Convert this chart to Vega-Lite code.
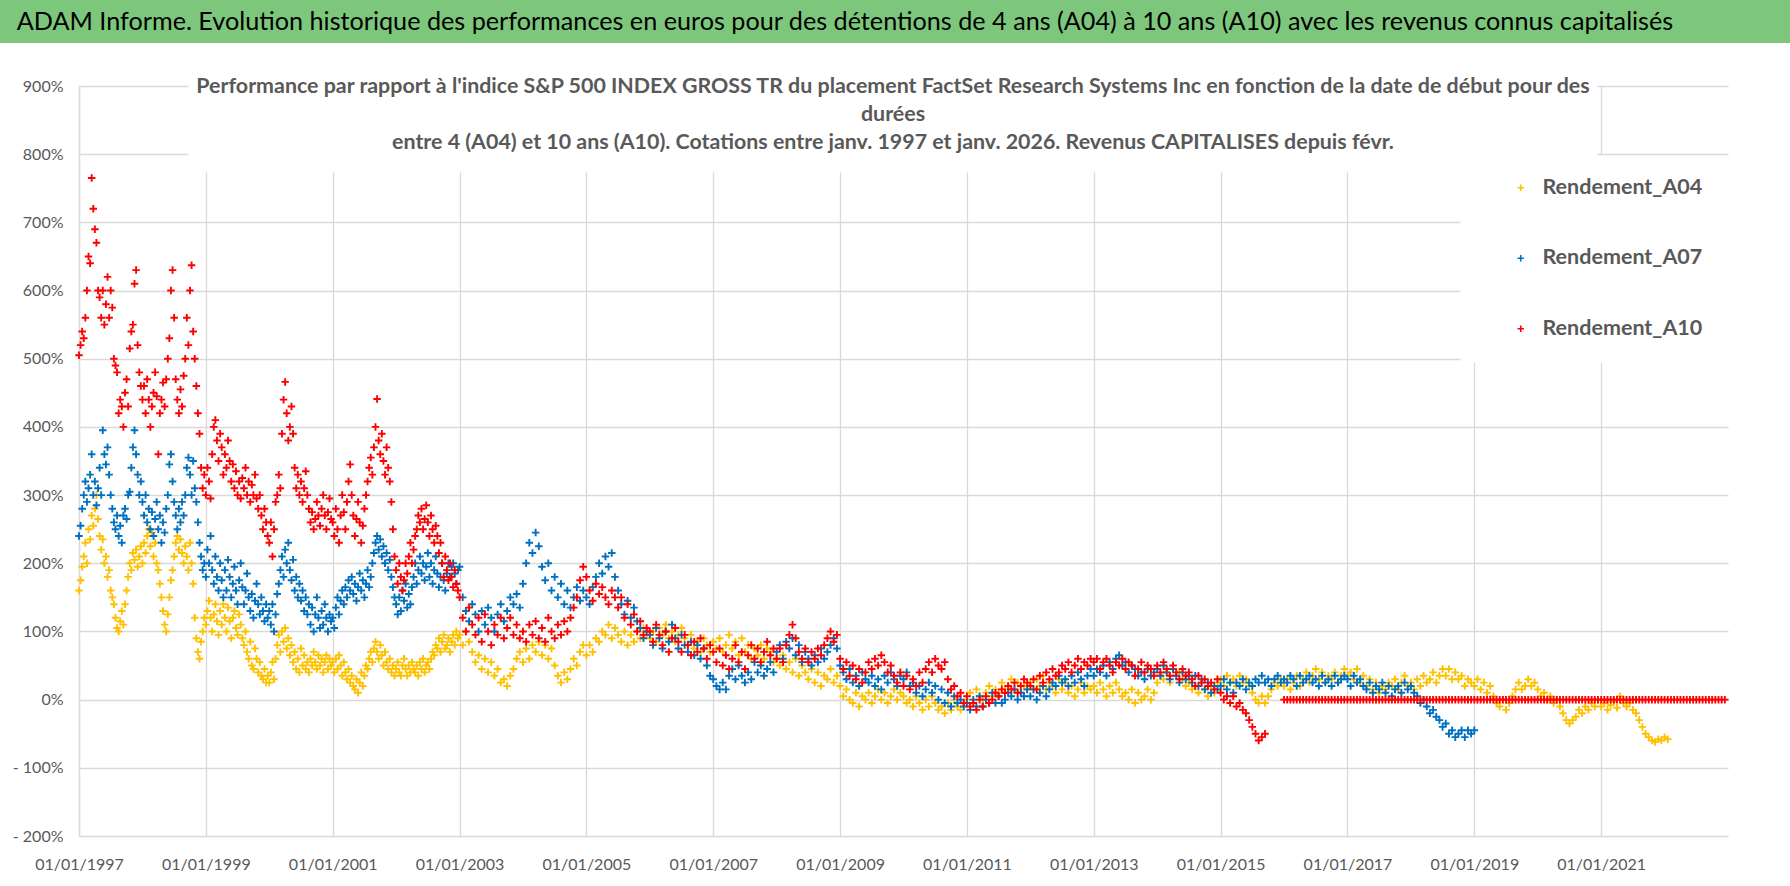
{
"$schema": "https://vega.github.io/schema/vega-lite/v6.json",
"padding": 0,
"background": "white",
"spacing": 32,
"columns": 1,
"resolve": {"legend": {"color": "independent"}},
"config": {"view": {"stroke": null}, "font": "Lato"},
"concat": [
{
"width": 1790, "height": 43,
"view": {"fill": "#7DC77D", "stroke": null},
"data": {"values": [{"titre": "ADAM Informe. Evolution historique des performances en euros pour des détentions de 4 ans (A04) à 10 ans (A10) avec les revenus connus capitalisés"}]},
"mark": {"type": "text", "fontSize": 25.2, "color": "#000000", "dx": -50, "baseline": "middle", "align": "center", "font": "Lato"},
"encoding": {"text": {"field": "titre", "type": "nominal"}}
},
{
"width": 1728, "height": 750,
"title": {"text": ["Performance par rapport à l'indice S&P 500 INDEX GROSS TR  du placement FactSet Research Systems Inc en fonction de la date de début pour des", "durées", "entre 4 (A04) et 10 ans (A10). Cotations entre janv. 1997 et janv. 2026. Revenus CAPITALISES depuis févr."], "fontSize": 21.4, "fontWeight": "bold", "color": "#595959", "font": "Lato", "lineHeight": 28, "anchor": "middle", "frame": "group", "dx": 29, "offset": -75},
"data": {"values": [
{"t":1997.000,"A04":160,"A07":240,"A10":505},
{"t":1997.025,"A04":175,"A07":255,"A10":520},
{"t":1997.050,"A04":195,"A07":280,"A10":540},
{"t":1997.075,"A04":210,"A07":300,"A10":530},
{"t":1997.100,"A04":230,"A07":320,"A10":560},
{"t":1997.125,"A04":200,"A07":290,"A10":600},
{"t":1997.150,"A04":250,"A07":310,"A10":650},
{"t":1997.175,"A04":235,"A07":330,"A10":640},
{"t":1997.200,"A04":270,"A07":360,"A10":765},
{"t":1997.225,"A04":255,"A07":300,"A10":720},
{"t":1997.250,"A04":280,"A07":320,"A10":690},
{"t":1997.275,"A04":300,"A07":285,"A10":670},
{"t":1997.300,"A04":265,"A07":310,"A10":600},
{"t":1997.325,"A04":240,"A07":340,"A10":590},
{"t":1997.350,"A04":220,"A07":300,"A10":560},
{"t":1997.375,"A04":235,"A07":395,"A10":600},
{"t":1997.400,"A04":200,"A07":360,"A10":550},
{"t":1997.425,"A04":210,"A07":345,"A10":580},
{"t":1997.450,"A04":180,"A07":370,"A10":620},
{"t":1997.475,"A04":190,"A07":330,"A10":560},
{"t":1997.500,"A04":160,"A07":300,"A10":600},
{"t":1997.525,"A04":150,"A07":280,"A10":575},
{"t":1997.550,"A04":140,"A07":260,"A10":500},
{"t":1997.575,"A04":120,"A07":250,"A10":490},
{"t":1997.600,"A04":105,"A07":270,"A10":480},
{"t":1997.625,"A04":100,"A07":240,"A10":420},
{"t":1997.650,"A04":115,"A07":255,"A10":440},
{"t":1997.675,"A04":130,"A07":230,"A10":430},
{"t":1997.700,"A04":110,"A07":270,"A10":400},
{"t":1997.725,"A04":140,"A07":280,"A10":450},
{"t":1997.750,"A04":160,"A07":265,"A10":470},
{"t":1997.775,"A04":180,"A07":300,"A10":430},
{"t":1997.800,"A04":200,"A07":305,"A10":515},
{"t":1997.825,"A04":190,"A07":340,"A10":540},
{"t":1997.850,"A04":215,"A07":370,"A10":550},
{"t":1997.875,"A04":205,"A07":395,"A10":610},
{"t":1997.900,"A04":220,"A07":360,"A10":630},
{"t":1997.925,"A04":195,"A07":330,"A10":520},
{"t":1997.950,"A04":210,"A07":300,"A10":480},
{"t":1997.975,"A04":225,"A07":320,"A10":460},
{"t":1998.000,"A04":200,"A07":290,"A10":440},
{"t":1998.025,"A04":230,"A07":270,"A10":460},
{"t":1998.050,"A04":215,"A07":300,"A10":420},
{"t":1998.075,"A04":240,"A07":260,"A10":470},
{"t":1998.100,"A04":250,"A07":280,"A10":440},
{"t":1998.125,"A04":225,"A07":250,"A10":400},
{"t":1998.150,"A04":245,"A07":275,"A10":430},
{"t":1998.175,"A04":210,"A07":240,"A10":450},
{"t":1998.200,"A04":230,"A07":265,"A10":480},
{"t":1998.225,"A04":200,"A07":290,"A10":445},
{"t":1998.250,"A04":190,"A07":250,"A10":360},
{"t":1998.275,"A04":170,"A07":270,"A10":420},
{"t":1998.300,"A04":150,"A07":230,"A10":440},
{"t":1998.325,"A04":130,"A07":260,"A10":465},
{"t":1998.350,"A04":110,"A07":245,"A10":430},
{"t":1998.375,"A04":100,"A07":280,"A10":470},
{"t":1998.400,"A04":125,"A07":300,"A10":500},
{"t":1998.425,"A04":150,"A07":345,"A10":530},
{"t":1998.450,"A04":175,"A07":360,"A10":600},
{"t":1998.475,"A04":190,"A07":320,"A10":630},
{"t":1998.500,"A04":210,"A07":290,"A10":560},
{"t":1998.525,"A04":230,"A07":270,"A10":470},
{"t":1998.550,"A04":240,"A07":250,"A10":440},
{"t":1998.575,"A04":220,"A07":280,"A10":420},
{"t":1998.600,"A04":235,"A07":260,"A10":455},
{"t":1998.625,"A04":215,"A07":290,"A10":430},
{"t":1998.650,"A04":200,"A07":270,"A10":475},
{"t":1998.675,"A04":225,"A07":300,"A10":500},
{"t":1998.700,"A04":210,"A07":340,"A10":560},
{"t":1998.725,"A04":190,"A07":355,"A10":520},
{"t":1998.750,"A04":230,"A07":330,"A10":600},
{"t":1998.775,"A04":200,"A07":300,"A10":637},
{"t":1998.800,"A04":170,"A07":350,"A10":540},
{"t":1998.825,"A04":120,"A07":310,"A10":500},
{"t":1998.850,"A04":90,"A07":290,"A10":460},
{"t":1998.875,"A04":70,"A07":260,"A10":420},
{"t":1998.900,"A04":60,"A07":230,"A10":390},
{"t":1998.925,"A04":85,"A07":210,"A10":340},
{"t":1998.950,"A04":100,"A07":190,"A10":310},
{"t":1998.975,"A04":120,"A07":200,"A10":330},
{"t":1999.000,"A04":110,"A07":180,"A10":300},
{"t":1999.025,"A04":130,"A07":220,"A10":340},
{"t":1999.050,"A04":145,"A07":200,"A10":320},
{"t":1999.075,"A04":120,"A07":240,"A10":295},
{"t":1999.100,"A04":100,"A07":190,"A10":360},
{"t":1999.125,"A04":125,"A07":170,"A10":400},
{"t":1999.150,"A04":140,"A07":210,"A10":410},
{"t":1999.175,"A04":115,"A07":180,"A10":380},
{"t":1999.200,"A04":95,"A07":160,"A10":350},
{"t":1999.225,"A04":130,"A07":200,"A10":390},
{"t":1999.250,"A04":110,"A07":175,"A10":370},
{"t":1999.275,"A04":140,"A07":150,"A10":330},
{"t":1999.300,"A04":120,"A07":190,"A10":360},
{"t":1999.325,"A04":100,"A07":160,"A10":340},
{"t":1999.350,"A04":135,"A07":205,"A10":380},
{"t":1999.375,"A04":115,"A07":180,"A10":350},
{"t":1999.400,"A04":90,"A07":150,"A10":320},
{"t":1999.425,"A04":120,"A07":170,"A10":345},
{"t":1999.450,"A04":130,"A07":195,"A10":310},
{"t":1999.475,"A04":105,"A07":160,"A10":335},
{"t":1999.500,"A04":95,"A07":140,"A10":300},
{"t":1999.525,"A04":125,"A07":175,"A10":320},
{"t":1999.550,"A04":110,"A07":200,"A10":295},
{"t":1999.575,"A04":90,"A07":165,"A10":325},
{"t":1999.600,"A04":80,"A07":140,"A10":310},
{"t":1999.625,"A04":100,"A07":160,"A10":340},
{"t":1999.650,"A04":70,"A07":185,"A10":300},
{"t":1999.675,"A04":60,"A07":150,"A10":320},
{"t":1999.700,"A04":85,"A07":130,"A10":290},
{"t":1999.725,"A04":50,"A07":155,"A10":315},
{"t":1999.750,"A04":45,"A07":120,"A10":300},
{"t":1999.775,"A04":75,"A07":145,"A10":330},
{"t":1999.800,"A04":60,"A07":170,"A10":295},
{"t":1999.825,"A04":40,"A07":140,"A10":280},
{"t":1999.850,"A04":55,"A07":125,"A10":300},
{"t":1999.875,"A04":35,"A07":150,"A10":270},
{"t":1999.900,"A04":30,"A07":130,"A10":250},
{"t":1999.925,"A04":45,"A07":115,"A10":280},
{"t":1999.950,"A04":25,"A07":140,"A10":260},
{"t":1999.975,"A04":35,"A07":120,"A10":240},
{"t":2000.000,"A04":25,"A07":130,"A10":230},
{"t":2000.025,"A04":40,"A07":110,"A10":260},
{"t":2000.050,"A04":55,"A07":140,"A10":210},
{"t":2000.075,"A04":30,"A07":100,"A10":250},
{"t":2000.100,"A04":60,"A07":125,"A10":290},
{"t":2000.125,"A04":80,"A07":155,"A10":300},
{"t":2000.150,"A04":95,"A07":170,"A10":330},
{"t":2000.175,"A04":70,"A07":190,"A10":310},
{"t":2000.200,"A04":100,"A07":210,"A10":390},
{"t":2000.225,"A04":85,"A07":180,"A10":440},
{"t":2000.250,"A04":105,"A07":220,"A10":466},
{"t":2000.275,"A04":75,"A07":200,"A10":420},
{"t":2000.300,"A04":90,"A07":230,"A10":380},
{"t":2000.325,"A04":65,"A07":190,"A10":400},
{"t":2000.350,"A04":80,"A07":175,"A10":430},
{"t":2000.375,"A04":55,"A07":205,"A10":390},
{"t":2000.400,"A04":70,"A07":160,"A10":340},
{"t":2000.425,"A04":45,"A07":180,"A10":310},
{"t":2000.450,"A04":60,"A07":150,"A10":330},
{"t":2000.475,"A04":40,"A07":170,"A10":300},
{"t":2000.500,"A04":75,"A07":145,"A10":320},
{"t":2000.525,"A04":50,"A07":160,"A10":290},
{"t":2000.550,"A04":65,"A07":130,"A10":310},
{"t":2000.575,"A04":45,"A07":150,"A10":335},
{"t":2000.600,"A04":55,"A07":125,"A10":300},
{"t":2000.625,"A04":40,"A07":140,"A10":280},
{"t":2000.650,"A04":60,"A07":110,"A10":260},
{"t":2000.675,"A04":50,"A07":135,"A10":275},
{"t":2000.700,"A04":70,"A07":100,"A10":250},
{"t":2000.725,"A04":55,"A07":125,"A10":265},
{"t":2000.750,"A04":45,"A07":150,"A10":290},
{"t":2000.775,"A04":65,"A07":120,"A10":270},
{"t":2000.800,"A04":50,"A07":105,"A10":255},
{"t":2000.825,"A04":60,"A07":130,"A10":280},
{"t":2000.850,"A04":40,"A07":110,"A10":300},
{"t":2000.875,"A04":55,"A07":140,"A10":270},
{"t":2000.900,"A04":65,"A07":120,"A10":250},
{"t":2000.925,"A04":45,"A07":100,"A10":275},
{"t":2000.950,"A04":60,"A07":125,"A10":295},
{"t":2000.975,"A04":50,"A07":115,"A10":265},
{"t":2001.000,"A04":55,"A07":120,"A10":260},
{"t":2001.025,"A04":40,"A07":105,"A10":240},
{"t":2001.050,"A04":60,"A07":135,"A10":280},
{"t":2001.075,"A04":45,"A07":150,"A10":250},
{"t":2001.100,"A04":65,"A07":125,"A10":230},
{"t":2001.125,"A04":50,"A07":145,"A10":270},
{"t":2001.150,"A04":35,"A07":160,"A10":300},
{"t":2001.175,"A04":55,"A07":140,"A10":275},
{"t":2001.200,"A04":40,"A07":165,"A10":250},
{"t":2001.225,"A04":30,"A07":150,"A10":290},
{"t":2001.250,"A04":45,"A07":175,"A10":320},
{"t":2001.275,"A04":25,"A07":160,"A10":345},
{"t":2001.300,"A04":35,"A07":180,"A10":300},
{"t":2001.325,"A04":20,"A07":155,"A10":270},
{"t":2001.350,"A04":15,"A07":170,"A10":240},
{"t":2001.375,"A04":30,"A07":145,"A10":265},
{"t":2001.400,"A04":10,"A07":165,"A10":290},
{"t":2001.425,"A04":25,"A07":185,"A10":260},
{"t":2001.450,"A04":40,"A07":160,"A10":230},
{"t":2001.475,"A04":20,"A07":175,"A10":255},
{"t":2001.500,"A04":35,"A07":150,"A10":280},
{"t":2001.525,"A04":50,"A07":170,"A10":300},
{"t":2001.550,"A04":45,"A07":190,"A10":320},
{"t":2001.575,"A04":60,"A07":165,"A10":340},
{"t":2001.600,"A04":70,"A07":180,"A10":355},
{"t":2001.625,"A04":55,"A07":200,"A10":330},
{"t":2001.650,"A04":75,"A07":215,"A10":370},
{"t":2001.675,"A04":85,"A07":230,"A10":400},
{"t":2001.700,"A04":70,"A07":240,"A10":441},
{"t":2001.725,"A04":60,"A07":220,"A10":380},
{"t":2001.750,"A04":80,"A07":235,"A10":360},
{"t":2001.775,"A04":65,"A07":210,"A10":390},
{"t":2001.800,"A04":50,"A07":225,"A10":350},
{"t":2001.825,"A04":70,"A07":200,"A10":330},
{"t":2001.850,"A04":55,"A07":215,"A10":370},
{"t":2001.875,"A04":45,"A07":190,"A10":340},
{"t":2001.900,"A04":60,"A07":205,"A10":320},
{"t":2001.925,"A04":40,"A07":180,"A10":290},
{"t":2001.950,"A04":50,"A07":165,"A10":250},
{"t":2001.975,"A04":35,"A07":150,"A10":210},
{"t":2002.000,"A04":45,"A07":140,"A10":190},
{"t":2002.025,"A04":55,"A07":125,"A10":170},
{"t":2002.050,"A04":40,"A07":150,"A10":200},
{"t":2002.075,"A04":35,"A07":130,"A10":180},
{"t":2002.100,"A04":50,"A07":160,"A10":160},
{"t":2002.125,"A04":60,"A07":145,"A10":175},
{"t":2002.150,"A04":45,"A07":170,"A10":200},
{"t":2002.175,"A04":35,"A07":135,"A10":185},
{"t":2002.200,"A04":50,"A07":155,"A10":210},
{"t":2002.225,"A04":40,"A07":140,"A10":230},
{"t":2002.250,"A04":55,"A07":165,"A10":200},
{"t":2002.275,"A04":45,"A07":180,"A10":220},
{"t":2002.300,"A04":40,"A07":200,"A10":240},
{"t":2002.325,"A04":50,"A07":170,"A10":250},
{"t":2002.350,"A04":35,"A07":190,"A10":270},
{"t":2002.375,"A04":55,"A07":210,"A10":260},
{"t":2002.400,"A04":45,"A07":185,"A10":280},
{"t":2002.425,"A04":60,"A07":200,"A10":250},
{"t":2002.450,"A04":40,"A07":175,"A10":265},
{"t":2002.475,"A04":50,"A07":195,"A10":285},
{"t":2002.500,"A04":55,"A07":215,"A10":260},
{"t":2002.525,"A04":45,"A07":180,"A10":240},
{"t":2002.550,"A04":60,"A07":200,"A10":270},
{"t":2002.575,"A04":70,"A07":170,"A10":250},
{"t":2002.600,"A04":65,"A07":190,"A10":230},
{"t":2002.625,"A04":80,"A07":210,"A10":255},
{"t":2002.650,"A04":75,"A07":185,"A10":240},
{"t":2002.675,"A04":90,"A07":165,"A10":215},
{"t":2002.700,"A04":70,"A07":180,"A10":230},
{"t":2002.725,"A04":85,"A07":200,"A10":200},
{"t":2002.750,"A04":95,"A07":175,"A10":180},
{"t":2002.775,"A04":75,"A07":160,"A10":210},
{"t":2002.800,"A04":80,"A07":185,"A10":190},
{"t":2002.825,"A04":90,"A07":200,"A10":175},
{"t":2002.850,"A04":70,"A07":180,"A10":200},
{"t":2002.875,"A04":85,"A07":195,"A10":180},
{"t":2002.900,"A04":95,"A07":200,"A10":165},
{"t":2002.925,"A04":80,"A07":185,"A10":190},
{"t":2002.950,"A04":100,"A07":170,"A10":170},
{"t":2002.975,"A04":90,"A07":190,"A10":160},
{"t":2003.00,"A04":95,"A07":195,"A10":150},
{"t":2003.05,"A04":80,"A07":150,"A10":120},
{"t":2003.10,"A04":100,"A07":130,"A10":100},
{"t":2003.15,"A04":85,"A07":115,"A10":135},
{"t":2003.20,"A04":70,"A07":140,"A10":110},
{"t":2003.25,"A04":55,"A07":125,"A10":95},
{"t":2003.30,"A04":65,"A07":100,"A10":120},
{"t":2003.35,"A04":45,"A07":130,"A10":85},
{"t":2003.40,"A04":60,"A07":110,"A10":125},
{"t":2003.45,"A04":40,"A07":135,"A10":100},
{"t":2003.50,"A04":55,"A07":120,"A10":80},
{"t":2003.55,"A04":35,"A07":100,"A10":110},
{"t":2003.60,"A04":45,"A07":125,"A10":95},
{"t":2003.65,"A04":25,"A07":140,"A10":120},
{"t":2003.70,"A04":30,"A07":115,"A10":90},
{"t":2003.75,"A04":20,"A07":130,"A10":105},
{"t":2003.80,"A04":35,"A07":150,"A10":120},
{"t":2003.85,"A04":45,"A07":140,"A10":95},
{"t":2003.90,"A04":60,"A07":155,"A10":110},
{"t":2003.95,"A04":70,"A07":135,"A10":90},
{"t":2004.00,"A04":55,"A07":170,"A10":100},
{"t":2004.05,"A04":75,"A07":200,"A10":85},
{"t":2004.10,"A04":60,"A07":230,"A10":110},
{"t":2004.15,"A04":80,"A07":215,"A10":95},
{"t":2004.20,"A04":70,"A07":245,"A10":115},
{"t":2004.25,"A04":85,"A07":225,"A10":90},
{"t":2004.30,"A04":65,"A07":195,"A10":105},
{"t":2004.35,"A04":80,"A07":175,"A10":85},
{"t":2004.40,"A04":60,"A07":200,"A10":120},
{"t":2004.45,"A04":75,"A07":160,"A10":100},
{"t":2004.50,"A04":50,"A07":180,"A10":90},
{"t":2004.55,"A04":35,"A07":150,"A10":110},
{"t":2004.60,"A04":25,"A07":170,"A10":95},
{"t":2004.65,"A04":40,"A07":140,"A10":115},
{"t":2004.70,"A04":30,"A07":160,"A10":100},
{"t":2004.75,"A04":45,"A07":135,"A10":120},
{"t":2004.80,"A04":60,"A07":150,"A10":135},
{"t":2004.85,"A04":50,"A07":165,"A10":150},
{"t":2004.90,"A04":70,"A07":145,"A10":175},
{"t":2004.95,"A04":80,"A07":160,"A10":195},
{"t":2005.00,"A04":65,"A07":150,"A10":180},
{"t":2005.05,"A04":80,"A07":140,"A10":160},
{"t":2005.10,"A04":70,"A07":165,"A10":145},
{"t":2005.15,"A04":90,"A07":180,"A10":170},
{"t":2005.20,"A04":85,"A07":200,"A10":155},
{"t":2005.25,"A04":100,"A07":185,"A10":165},
{"t":2005.30,"A04":95,"A07":210,"A10":150},
{"t":2005.35,"A04":110,"A07":195,"A10":140},
{"t":2005.40,"A04":90,"A07":215,"A10":160},
{"t":2005.45,"A04":105,"A07":180,"A10":150},
{"t":2005.50,"A04":95,"A07":160,"A10":135},
{"t":2005.55,"A04":85,"A07":140,"A10":150},
{"t":2005.60,"A04":100,"A07":125,"A10":120},
{"t":2005.65,"A04":80,"A07":145,"A10":140},
{"t":2005.70,"A04":95,"A07":120,"A10":110},
{"t":2005.75,"A04":85,"A07":135,"A10":125},
{"t":2005.80,"A04":100,"A07":115,"A10":100},
{"t":2005.85,"A04":90,"A07":105,"A10":115},
{"t":2005.90,"A04":105,"A07":90,"A10":95},
{"t":2005.95,"A04":95,"A07":100,"A10":105},
{"t":2006.00,"A04":90,"A07":95,"A10":100},
{"t":2006.05,"A04":100,"A07":80,"A10":85},
{"t":2006.10,"A04":85,"A07":105,"A10":110},
{"t":2006.15,"A04":105,"A07":90,"A10":95},
{"t":2006.20,"A04":95,"A07":75,"A10":80},
{"t":2006.25,"A04":110,"A07":100,"A10":100},
{"t":2006.30,"A04":90,"A07":85,"A10":70},
{"t":2006.35,"A04":100,"A07":110,"A10":90},
{"t":2006.40,"A04":85,"A07":90,"A10":105},
{"t":2006.45,"A04":95,"A07":75,"A10":85},
{"t":2006.50,"A04":105,"A07":95,"A10":70},
{"t":2006.55,"A04":90,"A07":80,"A10":95},
{"t":2006.60,"A04":80,"A07":70,"A10":80},
{"t":2006.65,"A04":95,"A07":85,"A10":65},
{"t":2006.70,"A04":75,"A07":65,"A10":85},
{"t":2006.75,"A04":85,"A07":80,"A10":70},
{"t":2006.80,"A04":70,"A07":60,"A10":90},
{"t":2006.85,"A04":90,"A07":75,"A10":75},
{"t":2006.90,"A04":80,"A07":50,"A10":60},
{"t":2006.95,"A04":70,"A07":35,"A10":80},
{"t":2007.00,"A04":85,"A07":30,"A10":70},
{"t":2007.05,"A04":75,"A07":20,"A10":55},
{"t":2007.10,"A04":90,"A07":15,"A10":75},
{"t":2007.15,"A04":70,"A07":25,"A10":50},
{"t":2007.20,"A04":80,"A07":15,"A10":65},
{"t":2007.25,"A04":95,"A07":35,"A10":45},
{"t":2007.30,"A04":75,"A07":45,"A10":60},
{"t":2007.35,"A04":85,"A07":30,"A10":80},
{"t":2007.40,"A04":65,"A07":50,"A10":55},
{"t":2007.45,"A04":90,"A07":35,"A10":70},
{"t":2007.50,"A04":70,"A07":25,"A10":45},
{"t":2007.55,"A04":80,"A07":40,"A10":65},
{"t":2007.60,"A04":60,"A07":30,"A10":80},
{"t":2007.65,"A04":75,"A07":55,"A10":60},
{"t":2007.70,"A04":65,"A07":40,"A10":75},
{"t":2007.75,"A04":80,"A07":50,"A10":55},
{"t":2007.80,"A04":60,"A07":35,"A10":70},
{"t":2007.85,"A04":75,"A07":45,"A10":85},
{"t":2007.90,"A04":70,"A07":55,"A10":65},
{"t":2007.95,"A04":55,"A07":40,"A10":75},
{"t":2008.00,"A04":60,"A07":70,"A10":60},
{"t":2008.05,"A04":50,"A07":80,"A10":75},
{"t":2008.10,"A04":65,"A07":60,"A10":55},
{"t":2008.15,"A04":45,"A07":85,"A10":80},
{"t":2008.20,"A04":55,"A07":75,"A10":95},
{"t":2008.25,"A04":40,"A07":90,"A10":110},
{"t":2008.30,"A04":60,"A07":65,"A10":90},
{"t":2008.35,"A04":35,"A07":80,"A10":70},
{"t":2008.40,"A04":50,"A07":55,"A10":60},
{"t":2008.45,"A04":40,"A07":70,"A10":75},
{"t":2008.50,"A04":30,"A07":60,"A10":55},
{"t":2008.55,"A04":45,"A07":50,"A10":70},
{"t":2008.60,"A04":25,"A07":65,"A10":60},
{"t":2008.65,"A04":40,"A07":55,"A10":75},
{"t":2008.70,"A04":20,"A07":75,"A10":65},
{"t":2008.75,"A04":35,"A07":60,"A10":80},
{"t":2008.80,"A04":30,"A07":70,"A10":90},
{"t":2008.85,"A04":45,"A07":80,"A10":100},
{"t":2008.90,"A04":25,"A07":90,"A10":85},
{"t":2008.95,"A04":35,"A07":75,"A10":95},
{"t":2009.00,"A04":20,"A07":50,"A10":60},
{"t":2009.05,"A04":5,"A07":40,"A10":45},
{"t":2009.10,"A04":15,"A07":30,"A10":55},
{"t":2009.15,"A04":0,"A07":45,"A10":35},
{"t":2009.20,"A04":-5,"A07":25,"A10":50},
{"t":2009.25,"A04":10,"A07":35,"A10":30},
{"t":2009.30,"A04":-10,"A07":20,"A10":45},
{"t":2009.35,"A04":5,"A07":40,"A10":25},
{"t":2009.40,"A04":0,"A07":30,"A10":40},
{"t":2009.45,"A04":10,"A07":25,"A10":55},
{"t":2009.50,"A04":-5,"A07":35,"A10":45},
{"t":2009.55,"A04":5,"A07":20,"A10":60},
{"t":2009.60,"A04":15,"A07":30,"A10":50},
{"t":2009.65,"A04":0,"A07":15,"A10":65},
{"t":2009.70,"A04":10,"A07":35,"A10":55},
{"t":2009.75,"A04":-5,"A07":25,"A10":40},
{"t":2009.80,"A04":5,"A07":40,"A10":50},
{"t":2009.85,"A04":15,"A07":30,"A10":35},
{"t":2009.90,"A04":0,"A07":20,"A10":25},
{"t":2009.95,"A04":10,"A07":35,"A10":40},
{"t":2010.00,"A04":5,"A07":30,"A10":20},
{"t":2010.05,"A04":-5,"A07":40,"A10":35},
{"t":2010.10,"A04":0,"A07":20,"A10":15},
{"t":2010.15,"A04":-10,"A07":25,"A10":30},
{"t":2010.20,"A04":5,"A07":10,"A10":20},
{"t":2010.25,"A04":-5,"A07":20,"A10":40},
{"t":2010.30,"A04":-15,"A07":5,"A10":25},
{"t":2010.35,"A04":0,"A07":15,"A10":45},
{"t":2010.40,"A04":-10,"A07":25,"A10":55},
{"t":2010.45,"A04":5,"A07":10,"A10":40},
{"t":2010.50,"A04":-5,"A07":20,"A10":60},
{"t":2010.55,"A04":-15,"A07":0,"A10":50},
{"t":2010.60,"A04":-10,"A07":15,"A10":45},
{"t":2010.65,"A04":-20,"A07":-5,"A10":55},
{"t":2010.70,"A04":-5,"A07":10,"A10":30},
{"t":2010.75,"A04":-15,"A07":-10,"A10":15},
{"t":2010.80,"A04":0,"A07":5,"A10":20},
{"t":2010.85,"A04":-10,"A07":-5,"A10":5},
{"t":2010.90,"A04":-15,"A07":0,"A10":10},
{"t":2010.95,"A04":-5,"A07":-10,"A10":-5},
{"t":2011.00,"A04":0,"A07":-5,"A10":5},
{"t":2011.05,"A04":10,"A07":-15,"A10":-10},
{"t":2011.10,"A04":-5,"A07":0,"A10":-5},
{"t":2011.15,"A04":15,"A07":-10,"A10":-15},
{"t":2011.20,"A04":5,"A07":5,"A10":0},
{"t":2011.25,"A04":0,"A07":-10,"A10":-10},
{"t":2011.30,"A04":10,"A07":0,"A10":5},
{"t":2011.35,"A04":20,"A07":-5,"A10":-5},
{"t":2011.40,"A04":5,"A07":10,"A10":0},
{"t":2011.45,"A04":15,"A07":-5,"A10":10},
{"t":2011.50,"A04":10,"A07":5,"A10":5},
{"t":2011.55,"A04":25,"A07":-5,"A10":15},
{"t":2011.60,"A04":15,"A07":0,"A10":10},
{"t":2011.65,"A04":20,"A07":10,"A10":20},
{"t":2011.70,"A04":30,"A07":5,"A10":15},
{"t":2011.75,"A04":15,"A07":15,"A10":25},
{"t":2011.80,"A04":25,"A07":0,"A10":10},
{"t":2011.85,"A04":10,"A07":10,"A10":20},
{"t":2011.90,"A04":20,"A07":5,"A10":30},
{"t":2011.95,"A04":15,"A07":15,"A10":25},
{"t":2012.00,"A04":25,"A07":5,"A10":20},
{"t":2012.05,"A04":15,"A07":15,"A10":30},
{"t":2012.10,"A04":30,"A07":0,"A10":15},
{"t":2012.15,"A04":20,"A07":10,"A10":35},
{"t":2012.20,"A04":35,"A07":20,"A10":25},
{"t":2012.25,"A04":15,"A07":5,"A10":40},
{"t":2012.30,"A04":25,"A07":15,"A10":30},
{"t":2012.35,"A04":20,"A07":25,"A10":45},
{"t":2012.40,"A04":10,"A07":20,"A10":35},
{"t":2012.45,"A04":30,"A07":35,"A10":40},
{"t":2012.50,"A04":15,"A07":25,"A10":50},
{"t":2012.55,"A04":25,"A07":30,"A10":45},
{"t":2012.60,"A04":10,"A07":20,"A10":55},
{"t":2012.65,"A04":20,"A07":35,"A10":40},
{"t":2012.70,"A04":5,"A07":25,"A10":50},
{"t":2012.75,"A04":15,"A07":40,"A10":60},
{"t":2012.80,"A04":25,"A07":30,"A10":45},
{"t":2012.85,"A04":10,"A07":20,"A10":55},
{"t":2012.90,"A04":20,"A07":35,"A10":50},
{"t":2012.95,"A04":15,"A07":45,"A10":60},
{"t":2013.00,"A04":20,"A07":35,"A10":55},
{"t":2013.05,"A04":10,"A07":45,"A10":60},
{"t":2013.10,"A04":25,"A07":40,"A10":45},
{"t":2013.15,"A04":15,"A07":50,"A10":55},
{"t":2013.20,"A04":5,"A07":35,"A10":60},
{"t":2013.25,"A04":20,"A07":55,"A10":50},
{"t":2013.30,"A04":10,"A07":45,"A10":40},
{"t":2013.35,"A04":25,"A07":60,"A10":55},
{"t":2013.40,"A04":15,"A07":65,"A10":50},
{"t":2013.45,"A04":5,"A07":50,"A10":60},
{"t":2013.50,"A04":10,"A07":55,"A10":45},
{"t":2013.55,"A04":0,"A07":40,"A10":55},
{"t":2013.60,"A04":15,"A07":50,"A10":50},
{"t":2013.65,"A04":-5,"A07":45,"A10":35},
{"t":2013.70,"A04":10,"A07":35,"A10":45},
{"t":2013.75,"A04":0,"A07":40,"A10":55},
{"t":2013.80,"A04":5,"A07":30,"A10":40},
{"t":2013.85,"A04":15,"A07":45,"A10":50},
{"t":2013.90,"A04":0,"A07":35,"A10":45},
{"t":2013.95,"A04":10,"A07":40,"A10":35},
{"t":2014.00,"A04":25,"A07":45,"A10":50},
{"t":2014.05,"A04":35,"A07":35,"A10":40},
{"t":2014.10,"A04":30,"A07":50,"A10":55},
{"t":2014.15,"A04":40,"A07":40,"A10":45},
{"t":2014.20,"A04":25,"A07":30,"A10":35},
{"t":2014.25,"A04":45,"A07":45,"A10":50},
{"t":2014.30,"A04":35,"A07":35,"A10":40},
{"t":2014.35,"A04":40,"A07":25,"A10":30},
{"t":2014.40,"A04":30,"A07":40,"A10":45},
{"t":2014.45,"A04":20,"A07":30,"A10":35},
{"t":2014.50,"A04":25,"A07":35,"A10":40},
{"t":2014.55,"A04":15,"A07":25,"A10":30},
{"t":2014.60,"A04":20,"A07":35,"A10":20},
{"t":2014.65,"A04":10,"A07":20,"A10":35},
{"t":2014.70,"A04":25,"A07":30,"A10":25},
{"t":2014.75,"A04":15,"A07":15,"A10":30},
{"t":2014.80,"A04":5,"A07":25,"A10":20},
{"t":2014.85,"A04":20,"A07":10,"A10":25},
{"t":2014.90,"A04":10,"A07":20,"A10":15},
{"t":2014.95,"A04":25,"A07":15,"A10":30},
{"t":2015.00,"A04":30,"A07":20,"A10":10},
{"t":2015.05,"A04":20,"A07":30,"A10":0},
{"t":2015.10,"A04":35,"A07":15,"A10":5},
{"t":2015.15,"A04":25,"A07":25,"A10":-5},
{"t":2015.20,"A04":30,"A07":10,"A10":5},
{"t":2015.25,"A04":20,"A07":25,"A10":-10},
{"t":2015.30,"A04":35,"A07":20,"A10":-5},
{"t":2015.35,"A04":25,"A07":30,"A10":-15},
{"t":2015.40,"A04":30,"A07":15,"A10":-20},
{"t":2015.45,"A04":20,"A07":25,"A10":-30},
{"t":2015.50,"A04":10,"A07":20,"A10":-40},
{"t":2015.55,"A04":0,"A07":30,"A10":-50},
{"t":2015.60,"A04":-5,"A07":25,"A10":-60},
{"t":2015.65,"A04":5,"A07":35,"A10":-55},
{"t":2015.70,"A04":-5,"A07":25,"A10":-50},
{"t":2015.75,"A04":5,"A07":30},
{"t":2015.80,"A04":15,"A07":20},
{"t":2015.85,"A04":25,"A07":30},
{"t":2015.90,"A04":20,"A07":35},
{"t":2015.95,"A04":30,"A07":25},
{"t":2016.00,"A04":20,"A07":30,"A10":0},
{"t":2016.05,"A04":30,"A07":25,"A10":0},
{"t":2016.10,"A04":15,"A07":35,"A10":0},
{"t":2016.15,"A04":25,"A07":30,"A10":0},
{"t":2016.20,"A04":35,"A07":20,"A10":0},
{"t":2016.25,"A04":20,"A07":35,"A10":0},
{"t":2016.30,"A04":30,"A07":25,"A10":0},
{"t":2016.35,"A04":40,"A07":30,"A10":0},
{"t":2016.40,"A04":25,"A07":35,"A10":0},
{"t":2016.45,"A04":35,"A07":25,"A10":0},
{"t":2016.50,"A04":45,"A07":30,"A10":0},
{"t":2016.55,"A04":30,"A07":20,"A10":0},
{"t":2016.60,"A04":40,"A07":35,"A10":0},
{"t":2016.65,"A04":25,"A07":25,"A10":0},
{"t":2016.70,"A04":35,"A07":30,"A10":0},
{"t":2016.75,"A04":30,"A07":20,"A10":0},
{"t":2016.80,"A04":40,"A07":35,"A10":0},
{"t":2016.85,"A04":25,"A07":25,"A10":0},
{"t":2016.90,"A04":35,"A07":30,"A10":0},
{"t":2016.95,"A04":45,"A07":35,"A10":0},
{"t":2017.00,"A04":35,"A07":30,"A10":0},
{"t":2017.05,"A04":40,"A07":20,"A10":0},
{"t":2017.10,"A04":30,"A07":35,"A10":0},
{"t":2017.15,"A04":45,"A07":25,"A10":0},
{"t":2017.20,"A04":25,"A07":30,"A10":0},
{"t":2017.25,"A04":35,"A07":20,"A10":0},
{"t":2017.30,"A04":20,"A07":15,"A10":0},
{"t":2017.35,"A04":30,"A07":25,"A10":0},
{"t":2017.40,"A04":15,"A07":10,"A10":0},
{"t":2017.45,"A04":25,"A07":20,"A10":0},
{"t":2017.50,"A04":10,"A07":15,"A10":0},
{"t":2017.55,"A04":20,"A07":25,"A10":0},
{"t":2017.60,"A04":15,"A07":10,"A10":0},
{"t":2017.65,"A04":25,"A07":20,"A10":0},
{"t":2017.70,"A04":20,"A07":5,"A10":0},
{"t":2017.75,"A04":30,"A07":15,"A10":0},
{"t":2017.80,"A04":15,"A07":20,"A10":0},
{"t":2017.85,"A04":25,"A07":10,"A10":0},
{"t":2017.90,"A04":35,"A07":25,"A10":0},
{"t":2017.95,"A04":20,"A07":15,"A10":0},
{"t":2018.00,"A04":25,"A07":20,"A10":0},
{"t":2018.05,"A04":15,"A07":10,"A10":0},
{"t":2018.10,"A04":30,"A07":5,"A10":0},
{"t":2018.15,"A04":20,"A07":-5,"A10":0},
{"t":2018.20,"A04":35,"A07":0,"A10":0},
{"t":2018.25,"A04":25,"A07":-10,"A10":0},
{"t":2018.30,"A04":30,"A07":-20,"A10":0},
{"t":2018.35,"A04":40,"A07":-15,"A10":0},
{"t":2018.40,"A04":25,"A07":-25,"A10":0},
{"t":2018.45,"A04":35,"A07":-30,"A10":0},
{"t":2018.50,"A04":45,"A07":-40,"A10":0},
{"t":2018.55,"A04":35,"A07":-35,"A10":0},
{"t":2018.60,"A04":45,"A07":-50,"A10":0},
{"t":2018.65,"A04":30,"A07":-45,"A10":0},
{"t":2018.70,"A04":40,"A07":-55,"A10":0},
{"t":2018.75,"A04":30,"A07":-50,"A10":0},
{"t":2018.80,"A04":35,"A07":-45,"A10":0},
{"t":2018.85,"A04":20,"A07":-55,"A10":0},
{"t":2018.90,"A04":30,"A07":-45,"A10":0},
{"t":2018.95,"A04":25,"A07":-50,"A10":0},
{"t":2019.00,"A04":20,"A07":-45,"A10":0},
{"t":2019.05,"A04":30,"A10":0},
{"t":2019.10,"A04":15,"A10":0},
{"t":2019.15,"A04":25,"A10":0},
{"t":2019.20,"A04":10,"A10":0},
{"t":2019.25,"A04":20,"A10":0},
{"t":2019.30,"A04":5,"A10":0},
{"t":2019.35,"A04":-5,"A10":0},
{"t":2019.40,"A04":-10,"A10":0},
{"t":2019.45,"A04":0,"A10":0},
{"t":2019.50,"A04":-15,"A10":0},
{"t":2019.55,"A04":-5,"A10":0},
{"t":2019.60,"A04":5,"A10":0},
{"t":2019.65,"A04":15,"A10":0},
{"t":2019.70,"A04":25,"A10":0},
{"t":2019.75,"A04":15,"A10":0},
{"t":2019.80,"A04":20,"A10":0},
{"t":2019.85,"A04":30,"A10":0},
{"t":2019.90,"A04":20,"A10":0},
{"t":2019.95,"A04":25,"A10":0},
{"t":2020.00,"A04":15,"A10":0},
{"t":2020.05,"A04":5,"A10":0},
{"t":2020.10,"A04":10,"A10":0},
{"t":2020.15,"A04":0,"A10":0},
{"t":2020.20,"A04":5,"A10":0},
{"t":2020.25,"A04":-5,"A10":0},
{"t":2020.30,"A04":0,"A10":0},
{"t":2020.35,"A04":-10,"A10":0},
{"t":2020.40,"A04":-20,"A10":0},
{"t":2020.45,"A04":-30,"A10":0},
{"t":2020.50,"A04":-35,"A10":0},
{"t":2020.55,"A04":-30,"A10":0},
{"t":2020.60,"A04":-25,"A10":0},
{"t":2020.65,"A04":-15,"A10":0},
{"t":2020.70,"A04":-20,"A10":0},
{"t":2020.75,"A04":-10,"A10":0},
{"t":2020.80,"A04":-15,"A10":0},
{"t":2020.85,"A04":-5,"A10":0},
{"t":2020.90,"A04":-10,"A10":0},
{"t":2020.95,"A04":0,"A10":0},
{"t":2021.00,"A04":-10,"A10":0},
{"t":2021.05,"A04":-5,"A10":0},
{"t":2021.10,"A04":-15,"A10":0},
{"t":2021.15,"A04":-8,"A10":0},
{"t":2021.20,"A04":-3,"A10":0},
{"t":2021.25,"A04":-12,"A10":0},
{"t":2021.30,"A04":5,"A10":0},
{"t":2021.35,"A04":-5,"A10":0},
{"t":2021.40,"A04":-10,"A10":0},
{"t":2021.45,"A04":-5,"A10":0},
{"t":2021.50,"A04":-15,"A10":0},
{"t":2021.55,"A04":-20,"A10":0},
{"t":2021.60,"A04":-30,"A10":0},
{"t":2021.65,"A04":-40,"A10":0},
{"t":2021.70,"A04":-50,"A10":0},
{"t":2021.75,"A04":-55,"A10":0},
{"t":2021.80,"A04":-60,"A10":0},
{"t":2021.85,"A04":-62,"A10":0},
{"t":2021.90,"A04":-58,"A10":0},
{"t":2021.95,"A04":-60,"A10":0},
{"t":2022.00,"A04":-55,"A10":0},
{"t":2022.05,"A04":-58,"A10":0},
{"t":2022.10,"A10":0},
{"t":2022.15,"A10":0},
{"t":2022.20,"A10":0},
{"t":2022.25,"A10":0},
{"t":2022.30,"A10":0},
{"t":2022.35,"A10":0},
{"t":2022.40,"A10":0},
{"t":2022.45,"A10":0},
{"t":2022.50,"A10":0},
{"t":2022.55,"A10":0},
{"t":2022.60,"A10":0},
{"t":2022.65,"A10":0},
{"t":2022.70,"A10":0},
{"t":2022.75,"A10":0},
{"t":2022.80,"A10":0},
{"t":2022.85,"A10":0},
{"t":2022.90,"A10":0},
{"t":2022.95,"A10":0}
]},
"transform": [
{"fold": ["A04", "A07", "A10"], "as": ["serie", "v"]},
{"filter": "isValid(datum.v)"}
],
"mark": {"type": "point", "shape": "M-1,0L1,0M0,-1L0,1", "filled": false, "size": 56, "strokeWidth": 1.9, "opacity": 1},
"encoding": {
"x": {"field": "t", "type": "quantitative", "scale": {"domain": [1997, 2023], "range": [79, 1728], "nice": false, "zero": false},
 "axis": {"values": [1997, 1999, 2001, 2003, 2005, 2007, 2009, 2011, 2013, 2015, 2017, 2019, 2021], "labelExpr": "'01/01/' + datum.value", "title": null, "grid": true, "domain": false, "ticks": false, "tickSize": 0, "labelPadding": 20, "labelFontSize": 16, "labelColor": "#595959", "labelFont": "Lato", "gridColor": "#D9D9D9", "gridWidth": 1.3, "labelFlush": false, "labelOverlap": false, "labelBound": false,
  "gridDash": {"condition": [{"test": "datum.value == 2019", "value": [0, 276, 800]}, {"test": "datum.value == 2021", "value": [68, 208, 800]}, {"test": "datum.value > 1997", "value": [0, 86, 800]}], "value": [1000, 0]}}},
"y": {"field": "v", "type": "quantitative", "scale": {"domain": [-200, 900], "nice": false, "zero": false},
 "axis": {"values": [-200, -100, 0, 100, 200, 300, 400, 500, 600, 700, 800, 900], "labelExpr": "datum.value < 0 ? '- ' + abs(datum.value) + '%' : datum.value + '%'", "title": null, "offset": -79, "ticks": false, "tickSize": 0, "labelPadding": 16, "labelFontSize": 16, "labelColor": "#595959", "labelFont": "Lato", "domain": true, "domainColor": "#D9D9D9", "domainWidth": 1.3, "gridColor": "#D9D9D9", "gridWidth": 1.3, "labelOverlap": false, "labelBound": false, "labelFlush": false,
  "gridDash": {"condition": [{"test": "datum.value >= 800", "value": [109, 1409, 200]}, {"test": "datum.value >= 500", "value": [1381, 400]}], "value": [1000, 0]}}},
"color": {"field": "serie", "type": "nominal", "scale": {"domain": ["A04", "A07", "A10"], "range": ["#FFC000", "#0070C0", "#FF0000"]},
 "legend": {"orient": "none", "legendX": 1510, "legendY": 91, "title": null, "labelExpr": "'Rendement_' + datum.label", "labelFontSize": 21.5, "labelFontWeight": "bold", "labelColor": "#595959", "labelFont": "Lato", "symbolType": "M-1,0L1,0M0,-1L0,1", "symbolSize": 40, "symbolStrokeWidth": 1.6, "rowPadding": 47.5, "labelOffset": 11, "padding": 0, "labelLimit": 400}},
"order": {"field": "serie", "sort": "ascending"}
}
}
]
}
